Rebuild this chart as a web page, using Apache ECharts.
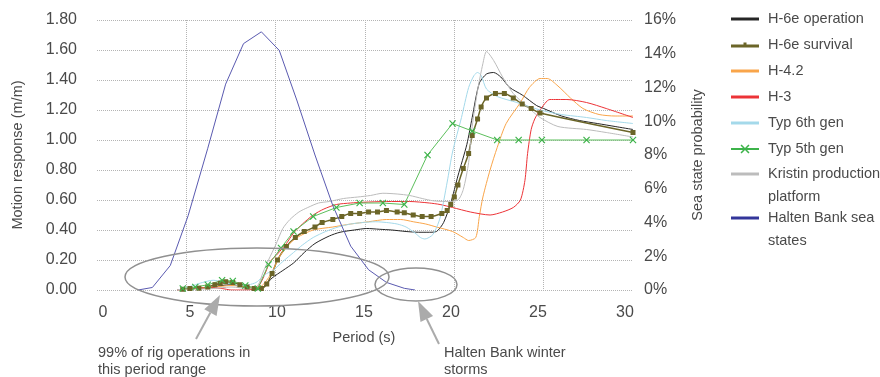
<!DOCTYPE html>
<html><head><meta charset="utf-8">
<script src="https://cdn.jsdelivr.net/npm/echarts@6/dist/echarts.min.js"></script>
<style>html,body{margin:0;padding:0;background:#fff}#c{width:880px;height:377px}</style>
</head><body><div id="c"></div>
<script>
// ---- data (period in s, motion response in m/m; sea state probability in %) ----
const xTicks = [0, 5, 10, 15, 20, 25, 30];
const seriesNames = ['H-6e operation','H-6e survival','H-4.2','H-3','Typ 6th gen','Typ 5th gen','Kristin production platform','Halten Bank sea states'];

const opP = [4.5,5,5.5,6,6.5,7,7.5,8,8.5,9,9.4,9.8,10.4,11,11.6,12.2,13,13.6,14.4,15.1,15.8,16.5,17.3,18,18.6,19,19.4,19.8,20.2,20.7,21,21.4,21.8,22.2,22.6,23.1,23.8,24.6,25,26,27,28,29,30];
const opV = [0,0.005,0.01,0.015,0.02,0.03,0.035,0.025,0.01,0.005,0.03,0.08,0.13,0.18,0.25,0.31,0.36,0.385,0.40,0.41,0.405,0.40,0.39,0.385,0.385,0.39,0.45,0.58,0.76,0.97,1.15,1.38,1.44,1.45,1.42,1.35,1.30,1.23,1.21,1.16,1.13,1.11,1.09,1.07];

const svP = [4.8,5.2,5.7,6.2,6.6,6.9,7.2,7.6,8.0,8.4,8.8,9.2,9.5,9.8,10.1,10.6,11.1,11.6,12.2,12.6,13.2,13.7,14.2,14.7,15.2,15.7,16.2,16.8,17.2,17.7,18.2,18.7,19.3,19.6,19.8,20.0,20.2,20.5,20.8,21.0,21.3,21.5,21.8,22.3,22.8,23.3,23.8,24.3,24.8,30];
const svV = [0.005,0.01,0.012,0.02,0.035,0.045,0.055,0.05,0.035,0.02,0.01,0.01,0.04,0.11,0.2,0.29,0.35,0.39,0.42,0.45,0.47,0.49,0.51,0.51,0.52,0.52,0.53,0.52,0.515,0.50,0.49,0.49,0.51,0.53,0.57,0.62,0.70,0.81,0.91,1.03,1.14,1.22,1.28,1.31,1.31,1.28,1.24,1.21,1.18,1.05];

const orP = [4.5,5,5.5,6,6.5,7,7.5,8,8.5,9,9.4,9.8,10.2,10.7,11.2,12.1,13.2,14.2,15.2,16.2,17.0,17.7,18.4,19.0,19.9,20.5,20.8,21.2,21.4,21.6,22.0,22.4,22.9,23.7,24.2,24.8,25.2,25.8,26.5,27.2,28.1,29,30];
const orV = [0,0.005,0.01,0.015,0.02,0.025,0.03,0.025,0.015,0.01,0.05,0.12,0.22,0.30,0.35,0.40,0.42,0.44,0.455,0.47,0.47,0.455,0.44,0.42,0.39,0.35,0.33,0.35,0.49,0.62,0.80,0.95,1.11,1.25,1.35,1.41,1.41,1.36,1.28,1.21,1.17,1.16,1.16];

const rdP = [4.5,5.5,6.5,7.0,7.5,8.0,8.5,9.0,9.3,9.7,10.1,10.6,11.0,11.5,12.1,12.7,13.4,14.2,14.9,16.2,17.5,18.6,19.2,19.9,20.9,22.0,22.7,23.3,23.7,23.95,24.1,24.3,24.5,24.8,25.35,26.3,27.4,28.5,30];
const rdV = [0,0.01,0.015,0.01,0,0,0,0.02,0.08,0.19,0.24,0.31,0.38,0.44,0.5,0.54,0.57,0.58,0.585,0.59,0.59,0.58,0.57,0.55,0.52,0.5,0.52,0.55,0.6,0.73,0.91,1.07,1.14,1.2,1.27,1.27,1.25,1.21,1.15];

const lbP = [4.5,5.0,5.5,5.9,6.5,7.0,7.5,8.0,8.5,8.9,9.2,9.5,9.85,10.4,11.0,11.5,12.1,12.8,13.5,14.2,14.9,15.6,16.2,16.8,17.3,17.8,18.1,18.35,18.8,19.2,19.6,19.9,20.4,20.8,21.1,21.3,21.5,21.8,22.4,23.5,24.8,26,27.4,28.5,30];
const lbV = [0,0.015,0.035,0.05,0.065,0.055,0.04,0.03,0.035,0.05,0.08,0.11,0.13,0.19,0.25,0.30,0.35,0.39,0.42,0.44,0.45,0.455,0.45,0.44,0.42,0.38,0.35,0.34,0.37,0.48,0.72,0.92,1.15,1.35,1.43,1.45,1.43,1.34,1.29,1.25,1.2,1.17,1.15,1.13,1.11];

const gnP = [4.8,5.5,6.2,7.0,7.6,8.3,9.0,9.6,10.3,11.0,12.1,13.4,14.7,16.0,17.2,18.5,19.9,21.0,22.4,23.6,24.9,27.4,30];
const gnV = [0.01,0.02,0.035,0.065,0.06,0.03,0.01,0.17,0.28,0.39,0.49,0.55,0.58,0.58,0.57,0.9,1.11,1.06,1.0,1.0,1.0,1.0,1.0];

const kpP = [4.5,5.5,6.5,7.0,7.5,8.0,8.5,9.0,9.3,9.6,10.0,10.4,10.8,11.3,11.8,12.4,13.0,13.8,14.6,15.3,16.0,16.8,17.5,18.2,18.8,19.5,20.2,20.5,20.8,21.0,21.3,21.6,21.8,22.2,22.7,23.3,24.1,24.8,25.8,27.4,28.5,30];
const kpV = [0,0.005,0.01,0.015,0.02,0.015,0.01,0.03,0.12,0.2,0.3,0.41,0.47,0.52,0.55,0.58,0.59,0.61,0.62,0.63,0.645,0.64,0.63,0.61,0.595,0.59,0.6,0.67,0.85,1.09,1.33,1.51,1.59,1.53,1.42,1.31,1.22,1.15,1.09,1.07,1.05,1.02];

const hbP = [2.3,3.1,4.1,5.1,6.2,7.2,8.2,9.2,10.2,11.2,12.2,13.2,14.2,15.2,16.2,17.2,17.8];
const hbV = [0,0.15,1.45,4.4,8.4,12.2,14.6,15.3,14.2,11.2,8.0,5.0,2.6,1.2,0.45,0.1,0];

// ---- rendering ----
const zip = (a, b) => a.slice(0, Math.min(a.length, b.length)).map((v, i) => [v, b[i]]);
const FONT = '"Liberation Sans", Arial, sans-serif';
const TXT = '#4a4a4a';
const GRIDC = '#b4b4b4';
const colors = ['#262626', '#6b6528', '#f9a54a', '#ec3337', '#a4d9ea', '#3db34a', '#bcbcbc', '#4a4aa6'];
const xMark = 'path://M0,1.2L1.2,0L5,3.8L8.8,0L10,1.2L6.2,5L10,8.8L8.8,10L5,6.2L1.2,10L0,8.8L3.8,5Z';
// legend icons (28 x 10 box)
const icBar = 'path://M0,0L28,0L28,3L0,3Z';
const icSurv = 'path://M0,3.5L12.5,3.5L12.5,1.5L15.5,1.5L15.5,3.5L28,3.5L28,6.5L0,6.5Z';
const icX = 'path://M0,4L28,4L28,6L0,6Z M9.5,1.58L10.58,0.5L14,3.92L17.42,0.5L18.5,1.58L15.08,5L18.5,8.42L17.42,9.5L14,6.08L10.58,9.5L9.5,8.42L12.92,5Z';

function line(i, P, V, extra) {
  return Object.assign({
    name: seriesNames[i], type: 'line', xAxisIndex: 0, yAxisIndex: 0,
    data: zip(P, V), symbol: 'none', smooth: 0.25,
    lineStyle: { color: colors[i], width: 1 }, itemStyle: { color: colors[i] },
    emphasis: { disabled: true }
  }, extra || {});
}

function arrow(tail, tip, headLen, headHalf, color) {
  const dx = tip[0] - tail[0], dy = tip[1] - tail[1];
  const L = Math.hypot(dx, dy), ux = dx / L, uy = dy / L, nx = -uy, ny = ux;
  const bx = tip[0] - ux * headLen, by = tip[1] - uy * headLen;
  return [
    { type: 'line', shape: { x1: tail[0], y1: tail[1], x2: bx, y2: by }, style: { stroke: color, lineWidth: 2 }, z: 100 },
    { type: 'polygon', shape: { points: [tip, [bx + nx * headHalf, by + ny * headHalf], [bx - nx * headHalf, by - ny * headHalf]] }, style: { fill: color }, z: 100 }
  ];
}

const legendIcons = [icBar, icSurv, icBar, icBar, icBar, icX, icBar, icBar];
const legendItem = i => ({ name: seriesNames[i], icon: legendIcons[i] });

const chart = echarts.init(document.getElementById('c'), null, { renderer: 'canvas' });
const legendText = { fontSize: 14.5, color: TXT, fontFamily: FONT, padding: [0, 0, 0, 4] };
chart.setOption({
  animation: false,
  textStyle: { fontFamily: FONT },
  grid: [
    { left: 97, right: 247, top: 20, bottom: 87 },
    { left: 103, right: 255, top: 20, bottom: 87 }
  ],
  xAxis: [
    { gridIndex: 0, type: 'value', min: 0, max: 30, interval: 5,
      axisLine: { show: false }, axisTick: { show: false }, axisLabel: { show: false },
      splitLine: { show: true, showMinLine: false, showMaxLine: false, lineStyle: { type: 'dotted', color: GRIDC, width: 1 } } },
    { gridIndex: 1, type: 'value', min: xTicks[0], max: xTicks[xTicks.length - 1], interval: 5,
      axisLine: { show: false }, axisTick: { show: false }, splitLine: { show: false },
      axisLabel: { fontSize: 16, color: TXT, margin: 15, fontFamily: FONT },
      name: 'Period (s)', nameLocation: 'middle', nameGap: 40,
      nameTextStyle: { fontSize: 14.5, color: TXT, fontFamily: FONT } }
  ],
  yAxis: [
    { gridIndex: 0, type: 'value', min: 0, max: 1.8, interval: 0.2,
      axisLine: { show: false }, axisTick: { show: false },
      axisLabel: { formatter: v => v.toFixed(2), fontSize: 16, color: TXT, margin: 20, fontFamily: FONT },
      splitLine: { show: true, lineStyle: { type: 'dotted', color: GRIDC, width: 1 } },
      name: 'Motion response (m/m)', nameLocation: 'middle', nameGap: 72,
      nameTextStyle: { fontSize: 14.5, color: TXT, fontFamily: FONT } },
    { gridIndex: 0, type: 'value', min: 0, max: 16, interval: 2, position: 'right',
      axisLine: { show: false }, axisTick: { show: false },
      axisLabel: { formatter: '{value}%', fontSize: 16, color: TXT, margin: 11, fontFamily: FONT },
      splitLine: { show: false },
      name: 'Sea state probability', nameLocation: 'middle', nameGap: 57,
      nameTextStyle: { fontSize: 14.5, color: TXT, fontFamily: FONT } },
    { gridIndex: 1, type: 'value', min: 0, max: 1, show: false }
  ],
  legend: [
    { orient: 'vertical', left: 731, top: 11, padding: 0, itemWidth: 28, itemHeight: 10, itemGap: 10,
      selectedMode: false, data: [0, 1, 2, 3, 4, 5].map(legendItem),
      textStyle: Object.assign({ lineHeight: 16 }, legendText) },
    { orient: 'vertical', left: 731, top: 139.5, padding: 0, itemWidth: 28, itemHeight: 10,
      selectedMode: false, data: [legendItem(6)], formatter: () => ' \nKristin production\nplatform',
      textStyle: Object.assign({ lineHeight: 23 }, legendText) },
    { orient: 'vertical', left: 731, top: 183.5, padding: 0, itemWidth: 28, itemHeight: 10,
      selectedMode: false, data: [legendItem(7)], formatter: () => ' \nHalten Bank sea\nstates',
      textStyle: Object.assign({ lineHeight: 23 }, legendText) }
  ],
  series: [
    line(0, opP, opV),
    line(1, svP, svV, { symbol: 'rect', symbolSize: 5, showSymbol: true, lineStyle: { color: colors[1], width: 1.5 } }),
    line(2, orP, orV),
    line(3, rdP, rdV),
    line(4, lbP, lbV),
    line(5, gnP, gnV, { smooth: false, symbol: xMark, symbolSize: 7, showSymbol: true, lineStyle: { color: '#5cbf5c', width: 1 }, itemStyle: { color: '#3db34a' } }),
    line(6, kpP, kpV),
    line(7, hbP, hbV, { yAxisIndex: 1, smooth: false, lineStyle: { color: '#5a5ab0', width: 1 }, itemStyle: { color: '#33369a' } })
  ],
  graphic: [
    { type: 'ellipse', shape: { cx: 257, cy: 277, rx: 132, ry: 29 }, style: { fill: 'none', stroke: '#909090', lineWidth: 1.5 }, z: 100 },
    { type: 'ellipse', shape: { cx: 416, cy: 284.5, rx: 41, ry: 16.5 }, style: { fill: 'none', stroke: '#909090', lineWidth: 1.5 }, z: 100 },
    ...arrow([196, 339], [220, 295], 20, 7, '#ababab'),
    ...arrow([439, 344], [418, 301], 20, 7, '#ababab'),
    { type: 'text', x: 98, y: 344, style: { text: '99% of rig operations in\nthis period range', fontSize: 14.5, fontFamily: FONT, fill: TXT, lineHeight: 17 }, z: 100 },
    { type: 'text', x: 444, y: 344, style: { text: 'Halten Bank winter\nstorms', fontSize: 14.5, fontFamily: FONT, fill: TXT, lineHeight: 17 }, z: 100 }
  ]
});
</script>
</body></html>
